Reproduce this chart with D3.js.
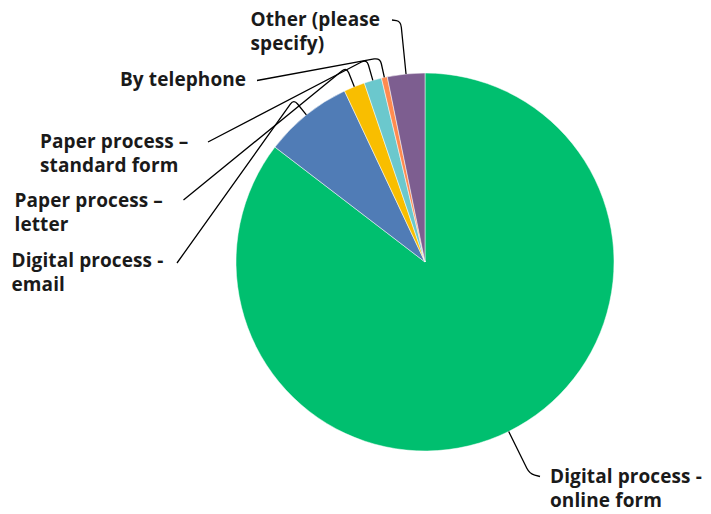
<!DOCTYPE html>
<html>
<head>
<meta charset="utf-8">
<script src="https://cdn.jsdelivr.net/npm/d3@7"></script>
<style>
  html, body { margin: 0; padding: 0; background: #fff; }
  svg { display: block; }
  .lbl { font-family: "Open Sans", sans-serif; font-weight: 700; font-size: 19px; letter-spacing: 0.1px; fill: #1a1a1a; }
</style>
</head>
<body>
<svg id="chart" width="711" height="514"></svg>
<script>
// How requests were submitted (share of responses, %)
const categories = [
  "Digital process - online form",
  "Digital process - email",
  "Paper process – letter",
  "Paper process – standard form",
  "By telephone",
  "Other (please specify)"
];
const shares = [85.4, 7.6, 1.8, 1.5, 0.5, 3.2];
const labelLines = [
  ["Digital process -", "online form"],
  ["Digital process -", "email"],
  ["Paper process –", "letter"],
  ["Paper process –", "standard form"],
  ["By telephone"],
  ["Other (please", "specify)"]
];
const sliceColors = ["#00BF6F", "#507CB6", "#F9BE00", "#6BC8CD", "#FF8B4F", "#7D5E90"];

// Label placement: text origin, leader end point and elbow radius
const labelLayout = [
  { tx: 550, ty: 483, ax: 540, ay: 476.5, elbowR: 236 },
  { tx: 11.5, ty: 267, ax: 177, ay: 263, elbowR: 209 },
  { tx: 14.5, ty: 207, ax: 183.5, ay: 200, elbowR: 210 },
  { tx: 40, ty: 148, ax: 208, ay: 142, elbowR: 211 },
  { tx: 120, ty: 86, ax: 257, ay: 80.5, elbowR: 209 },
  { tx: 250.5, ty: 26, ax: 392, ay: 20, elbowR: 242 }
];
const lineGap = 24;

const cx = 425, cy = 262, radius = 189;
const svg = d3.select("#chart");
const g = svg.append("g").attr("transform", `translate(${cx},${cy})`);

const pie = d3.pie().sort(null).value(d => d.value);
const data = categories.map((c, i) => ({ name: c, value: shares[i], i }));
const arcs = pie(data);
const arc = d3.arc().innerRadius(0).outerRadius(radius);

g.selectAll("path.slice")
  .data(arcs)
  .join("path")
  .attr("class", "slice")
  .attr("d", arc)
  .attr("fill", d => sliceColors[d.data.i])
  .attr("stroke", "#fff")
  .attr("stroke-width", 0.5);

// Leader lines: radial stub out of the slice, rounded elbow, then straight to the label
function polar(a, r) { return [r * Math.sin(a), -r * Math.cos(a)]; }
function leaderPath(d) {
  const lay = labelLayout[d.data.i];
  const mid = (d.startAngle + d.endAngle) / 2;
  const P = polar(mid, radius);
  const E = polar(mid, lay.elbowR);
  const L = [lay.ax - cx, lay.ay - cy];
  const c = 6;
  const toward = (from, to, dist) => {
    const dx = to[0] - from[0], dy = to[1] - from[1];
    const len = Math.hypot(dx, dy) || 1;
    const k = Math.min(dist, len / 2) / len;
    return [from[0] + dx * k, from[1] + dy * k];
  };
  const E1 = toward(E, P, c);
  const E2 = toward(E, L, c);
  const p = d3.path();
  p.moveTo(P[0], P[1]);
  p.lineTo(E1[0], E1[1]);
  p.quadraticCurveTo(E[0], E[1], E2[0], E2[1]);
  p.lineTo(L[0], L[1]);
  return p.toString();
}

g.selectAll("path.leader")
  .data(arcs)
  .join("path")
  .attr("class", "leader")
  .attr("d", leaderPath)
  .attr("fill", "none")
  .attr("stroke", "#000")
  .attr("stroke-width", 1.3);

svg.selectAll("text.lbl")
  .data(arcs)
  .join("text")
  .attr("class", "lbl")
  .attr("x", d => labelLayout[d.data.i].tx)
  .attr("y", d => labelLayout[d.data.i].ty)
  .each(function(d) {
    const lay = labelLayout[d.data.i];
    d3.select(this).selectAll("tspan")
      .data(labelLines[d.data.i])
      .join("tspan")
      .attr("x", lay.tx)
      .attr("dy", (t, j) => j === 0 ? 0 : lineGap)
      .text(t => t);
  });
</script>
</body>
</html>
